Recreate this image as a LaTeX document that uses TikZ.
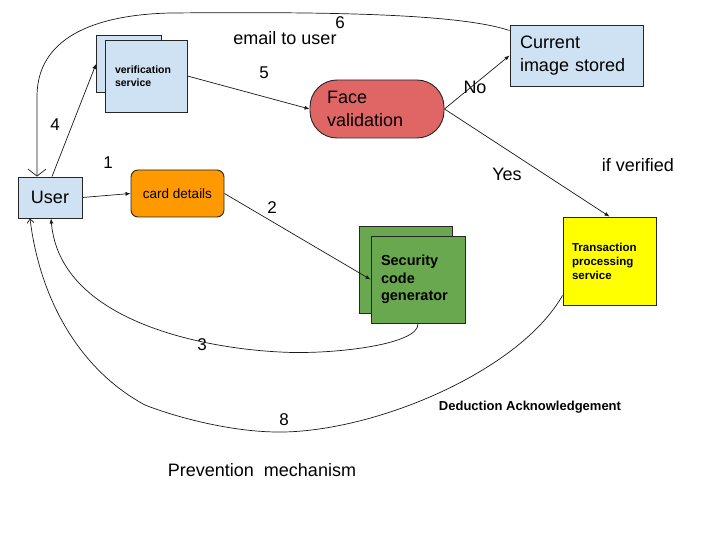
\documentclass[tikz,border=0pt]{standalone}
\usepackage{fontspec}
\setmainfont{Liberation Sans}
\usetikzlibrary{arrows.meta, positioning, calc}

\definecolor{paleblue}{RGB}{207,226,243}
\definecolor{orangebox}{RGB}{255,153,0}
\definecolor{redbox}{RGB}{224,102,102}
\definecolor{greenbox}{RGB}{106,168,79}
\definecolor{yellowbox}{RGB}{255,255,0}

\begin{document}
\begin{tikzpicture}[
                x=1pt, y=-1pt,
                box/.style={draw=black!85, line width=0.9pt, rectangle, align=left, inner ysep=0pt},
                big/.style={font=\fontsize{18}{23}\selectfont},
                num/.style={font=\fontsize{17}{20}\selectfont, inner sep=0pt},
                line/.style={line width=0.7pt, black!90},
                >={Latex[length=5pt,width=4pt]}
            ]
                \useasboundingbox (0,0) rectangle (720,540);

                % Nodes
                \node[box, fill=paleblue, big, align=center, minimum width=64pt, minimum height=41pt] (user) at (50,197.5) {User};
                \node[box, fill=orangebox, rounded corners=7pt, align=center, minimum width=93pt, minimum height=47pt,
                      font=\fontsize{13.5}{16}\selectfont] (card) at (177.5,193.5) {card details};
                \node[box, fill=paleblue, minimum width=65pt, minimum height=57pt] (verb) at (129,64) {};
                \node[box, fill=paleblue, minimum width=82pt, minimum height=72pt, text width=62pt, inner xsep=10pt,
                      font=\fontsize{10.5}{13}\selectfont\bfseries] (verf) at (146,76) {verification\\service};
                \node[box, fill=redbox, rounded corners=27pt, big, minimum width=134pt, minimum height=58pt,
                      text width=100pt, inner xsep=17pt] (face) at (377,109) {Face\\validation};
                \node[box, fill=paleblue, big, minimum width=133pt, minimum height=61pt, text width=113pt,
                      inner xsep=10pt] (cur) at (576.5,55.5) {Current\\image stored};
                \node[box, fill=greenbox, minimum width=93pt, minimum height=87pt] (secb) at (406,269.5) {};
                \node[box, fill=greenbox, minimum width=94pt, minimum height=87pt, text width=74pt, inner xsep=10pt,
                      font=\fontsize{14.5}{17.5}\selectfont\bfseries] (secf) at (418,279.5) {Security\\code\\generator};
                \node[box, fill=yellowbox, minimum width=93pt, minimum height=88pt, text width=75pt, inner xsep=9pt,
                      font=\fontsize{11.5}{14}\selectfont\bfseries] (trans) at (609.5,261) {Transaction\\processing\\service};

                % Labels
                \node[num] (n1) at (108,163) {1};
                \node[num] (n2) at (272,208) {2};
                \node[num] (n3) at (202,345) {3};
                \node[num] (n4) at (55,125) {4};
                \node[num] (n5) at (264,73) {5};
                \node[num] (n6) at (340,23) {6};
                \node[num] (n8) at (284,420) {8};
                \node[big, inner sep=0pt] (email) at (285,38) {email to user};
                \node[big, inner sep=0pt] (no) at (475,87) {No};
                \node[big, inner sep=0pt] (yes) at (507,174) {Yes};
                \node[big, inner sep=0pt] (ifv) at (638,165) {if verified};
                \node[font=\fontsize{13}{16}\selectfont\bfseries, inner sep=0pt] (ded) at (530,407) {Deduction Acknowledgement};
                \node[big, inner sep=0pt] (prev) at (262,470) {Prevention\ \ mechanism};

                % Connections
                \draw[line, ->] (user.east) -- (card.west);
                \draw[line, ->] ([xshift=2pt]user.north) -- (verb.west);
                \draw[line, ->] (verf.east) -- (face.west);
                \draw[line, ->] (face.east) -- (cur.west);
                \draw[line, ->] (face.east) -- (trans.north);
                \draw[line, ->] (card.east) -- (secf.west);
                \draw[line, ->] (secf.south) .. controls (420,345) and (330,355) .. (280,352)
                    .. controls (200,348) and (60,320) .. ([xshift=1pt]user.south);
                \draw[line, -{Straight Barb[length=4pt,width=7pt]}] ([yshift=10pt]trans.south west)
                    .. controls (520,370) and (380,430) .. (284,432)
                    .. controls (230,433) and (170,415) .. (145,405)
                    .. controls (80,370) and (40,300) .. ([xshift=-20pt]user.south);
                \draw[line, -{Straight Barb[length=7pt,width=18pt]}] ([yshift=-6pt]cur.north west)
                    .. controls (455,12) and (300,12) .. (170,13)
                    .. controls (90,15) and (38,40) .. (37,95) -- ([xshift=-13pt]user.north);

            \end{tikzpicture}
\end{document}
